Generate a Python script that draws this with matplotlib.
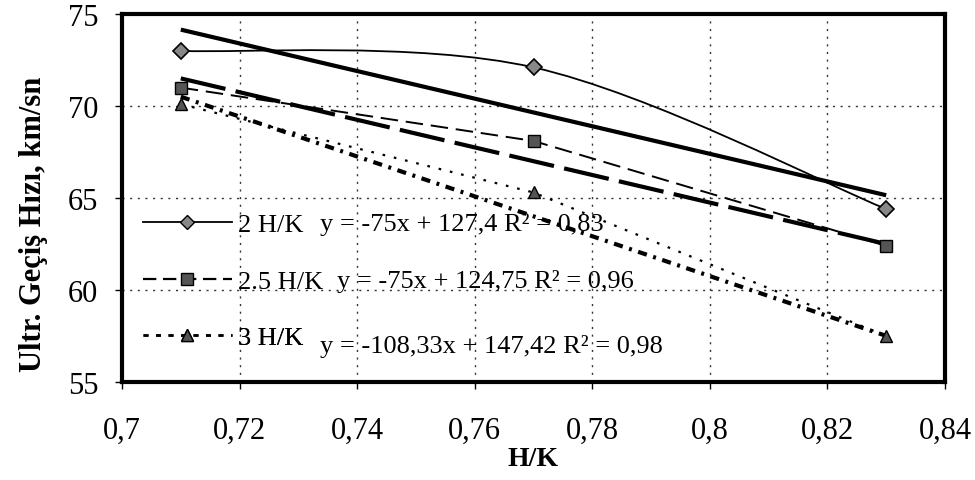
import numpy as np
import matplotlib.pyplot as plt
from matplotlib.path import Path
from matplotlib.patches import PathPatch
from matplotlib.lines import Line2D

plt.rcParams['font.family'] = ['Liberation Serif', 'DejaVu Serif']

# data
hk = [0.71, 0.77, 0.83]
v2 = [73.0, 72.1, 64.4]
v25 = [71.0, 68.1, 62.4]
v3 = [70.1, 65.3, 57.5]
labels = ['2 H/K', '2.5 H/K', '3 H/K']
equations = ['y = -75x + 127,4 R² = 0,83',
             'y = -75x + 124,75 R² = 0,96',
             'y = -108,33x + 147,42 R² = 0,98']
slopes = [-75.0, -75.0, -108.33]
intercepts = [127.4, 124.75, 147.42]
xticks = [0.7, 0.72, 0.74, 0.76, 0.78, 0.8, 0.82, 0.84]
xticklabels = ['0,7', '0,72', '0,74', '0,76', '0,78', '0,8', '0,82', '0,84']
yticks = [55, 60, 65, 70, 75]

fig = plt.figure(figsize=(9.75, 4.81), dpi=100)
ax = fig.add_axes([122 / 975, 1 - 383 / 481, 823 / 975, 368 / 481])
ax.set_xlim(0.7, 0.84)
ax.set_ylim(55, 75)

ax.grid(True, linestyle=(0, (1.5, 4)), color='#333333', linewidth=1.0)
ax.set_axisbelow(True)

# trend lines
xt = np.array([hk[0], hk[-1]])
trend_styles = ['-', (0, (11, 2.5)), (0, (2.2, 1.6, 0.7, 1.6))]
for m, b, ls in zip(slopes, intercepts, trend_styles):
    ax.plot(xt, m * xt + b, color='black', linewidth=3.0, linestyle=ls,
            solid_capstyle='butt', dash_capstyle='butt')

# 2 H/K: smoothed line (catmull-rom style bezier through the points)
pts = np.column_stack([hk, v2])
verts = [tuple(pts[0])]
codes = [Path.MOVETO]
for i in range(len(pts) - 1):
    p0 = pts[max(i - 1, 0)]
    p1 = pts[i]
    p2 = pts[i + 1]
    p3 = pts[min(i + 2, len(pts) - 1)]
    c1 = p1 + (p2 - p0) / 6.0
    c2 = p2 - (p3 - p1) / 6.0
    verts += [tuple(c1), tuple(c2), tuple(p2)]
    codes += [Path.CURVE4] * 3
ax.add_patch(PathPatch(Path(verts, codes), facecolor='none',
                       edgecolor='black', linewidth=1.3))
ax.plot(hk, v2, linestyle='none', marker='D', markersize=8,
        markerfacecolor='#888888', markeredgecolor='black', markeredgewidth=1.2)

# 2.5 H/K and 3 H/K data lines
ax.plot(hk, v25, color='black', linewidth=1.4, linestyle=(0, (9, 4)),
        marker='s', markersize=9, markerfacecolor='#555555',
        markeredgecolor='black')
ax.plot(hk, v3, color='black', linewidth=1.6, linestyle=(0, (1.2, 4)),
        marker='^', markersize=9, markerfacecolor='#555555',
        markeredgecolor='black')

# legend entries, each placed on its own row
handles = [
    Line2D([], [], color='black', linewidth=1.3, marker='D', markersize=7,
           markerfacecolor='#888888', markeredgecolor='black'),
    Line2D([], [], color='black', linewidth=1.6, linestyle=(0, (6, 3)),
           marker='s', markersize=8, markerfacecolor='#555555',
           markeredgecolor='black'),
    Line2D([], [], color='black', linewidth=1.8, linestyle=(0, (2, 3)),
           marker='^', markersize=8, markerfacecolor='#555555',
           markeredgecolor='black'),
]
leg_y = [0.429, 0.274, 0.122]
for h, lab, yy in zip(handles, labels, leg_y):
    leg = ax.legend([h], [lab], loc='center left', bbox_to_anchor=(0.025, yy),
                    frameon=False, fontsize=19, handlelength=3.4,
                    handletextpad=0.2, borderpad=0, borderaxespad=0)
    ax.add_artist(leg)

eq_pos = [(0.7337, 63.6), (0.7366, 60.5), (0.7337, 57.0)]
for (ex, ey), eq in zip(eq_pos, equations):
    ax.text(ex, ey, eq, fontsize=19, va='center', ha='left')

ax.set_xticks(xticks)
ax.set_xticklabels(xticklabels)
ax.set_yticks(yticks)
ax.tick_params(labelsize=22, direction='out', length=5, width=1)
ax.tick_params(axis='x', pad=19)
ax.tick_params(axis='y', pad=12)
ax.set_xlabel('H/K', fontsize=20, fontweight='bold')
ax.xaxis.set_label_coords(0.5, -0.175)
ax.set_ylabel('Ultr. Geçiş Hızı, km/sn', fontsize=22, fontweight='bold')
ax.yaxis.set_label_coords(-0.09, 0.43)

for s in ax.spines.values():
    s.set_linewidth(3.0)

fig.savefig('out.png', dpi=100)
